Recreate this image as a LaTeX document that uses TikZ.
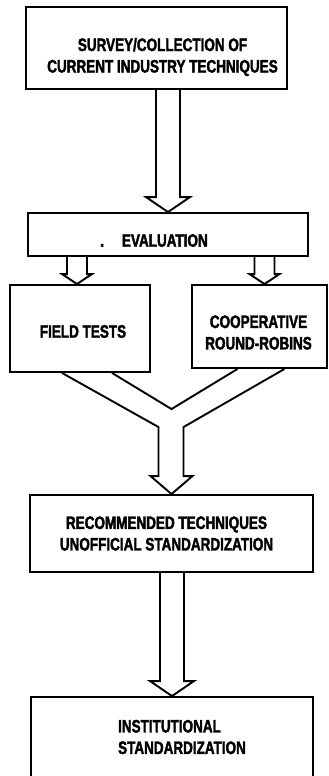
\documentclass[tikz,border=0pt]{standalone}
\usepackage{fontspec}
\newfontfamily\boxfont{Liberation Sans}[FakeStretch=0.75, FakeBold=2]
\usetikzlibrary{calc}

\begin{document}
\begin{tikzpicture}[
    x=1pt, y=-1pt,
    font=\boxfont\bfseries\fontsize{18}{21.5}\selectfont,
    box/.style={rectangle, draw, line width=1.9pt},
    txt/.style={align=center, inner sep=0pt},
    hollow/.style={draw, line width=1.9pt, line join=miter}
]
\useasboundingbox (0,0) rectangle (329,776);
% boxes
\node[box, minimum width=261pt, minimum height=82pt,
      label={[txt, xshift=6pt, yshift=-9pt]center:{SURVEY/COLLECTION OF\\CURRENT INDUSTRY TECHNIQUES}}] (survey) at (156.5,48) {};
\node[box, minimum width=280pt, minimum height=43pt,
      label={[txt, xshift=-14pt, yshift=-6pt]center:{.\hspace{18pt}EVALUATION}}] (eval) at (168,234.5) {};
\node[box, minimum width=140pt, minimum height=87pt,
      label={[txt, xshift=3pt, yshift=-3pt]center:{FIELD TESTS}}] (field) at (80,328.5) {};
\node[box, minimum width=135pt, minimum height=83pt,
      label={[txt, xshift=-1pt, yshift=-6pt]center:{COOPERATIVE\\ROUND-ROBINS}}] (coop) at (259.5,326.5) {};
\node[box, minimum width=283pt, minimum height=77pt,
      label={[txt, xshift=-5pt, yshift=0pt]center:{RECOMMENDED TECHNIQUES\\UNOFFICIAL STANDARDIZATION}}] (rec) at (171.5,533.5) {};
\node[box, minimum width=282pt, minimum height=100pt,
      label={[txt, align=left, xshift=10pt, yshift=10pt]center:{INSTITUTIONAL\\ STANDARDIZATION}}] (inst) at (172,747) {};

% hollow arrows
\coordinate (a1) at (eval.north |- survey.south);
\coordinate (a2) at ($(field.north |- eval.south)+(-3,0)$);
\coordinate (a2t) at ($(field.north)+(-3,0)$);
\coordinate (a3) at ($(coop.north |- eval.south)+(5,0)$);
\coordinate (a3t) at ($(coop.north)+(5,0)$);
\coordinate (a4) at (inst.north |- rec.south);
\foreach \src/\dst/\sw/\hw/\hl in {a1/eval.north/12/22/15, a2/a2t/10/15/10, a3/a3t/10/15/10, a4/inst.north/12/22/15}
  \draw[hollow] ($(\src)+(-\sw,0)$) -- ($(\dst)+(-\sw,-\hl)$) -- ($(\dst)+(-\hw,-\hl)$) -- (\dst)
    -- ($(\dst)+(\hw,-\hl)$) -- ($(\dst)+(\sw,-\hl)$) -- ($(\src)+(\sw,0)$);

% merging arrow
\coordinate (merge) at ($(rec.north)+(0,-85)$);
\draw[hollow] ($(field.south)+(-18,0)$) -- ($(rec.north)+(-13,-67)$) -- ($(rec.north)+(-13,-18)$)
  -- ($(rec.north)+(-21,-18)$) -- (rec.north) -- ($(rec.north)+(21,-18)$) -- ($(rec.north)+(12,-18)$)
  -- ($(rec.north)+(12,-67)$) -- ($(coop.south)+(25,0)$);
\draw[hollow] ($(coop.south)+(-22,0)$) -- (merge) -- ($(field.south)+(32,0)$);
\end{tikzpicture}
\end{document}
